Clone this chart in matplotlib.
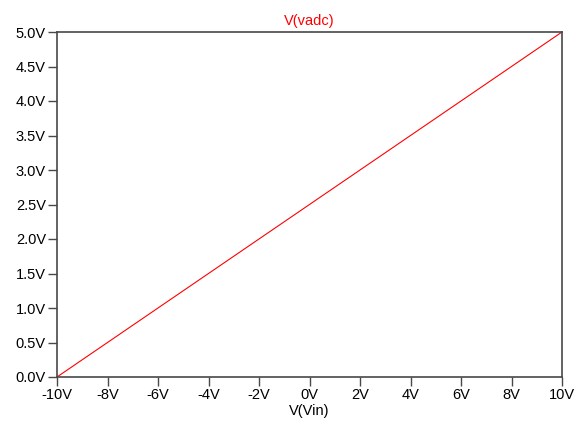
import matplotlib
matplotlib.use("Agg")
import matplotlib.pyplot as plt
import numpy as np

vin = [-10, 10]
vadc = [0.0, 5.0]
xticks = [-10, -8, -6, -4, -2, 0, 2, 4, 6, 8, 10]
yticks = [0.0, 0.5, 1.0, 1.5, 2.0, 2.5, 3.0, 3.5, 4.0, 4.5, 5.0]

plt.rcParams['font.family'] = ['Liberation Sans', 'DejaVu Sans']
fig = plt.figure(figsize=(5.84, 4.25), dpi=100)
ax = fig.add_axes([57/584, 1-377/425, (562-57)/584, (377-32)/425])
ax.plot(vin, vadc, color='red', lw=0.8)
ax.set_xlim(-10, 10)
ax.set_ylim(0, 5)
ax.set_xticks(xticks)
ax.set_xticklabels([f"{v}V" for v in xticks])
ax.set_yticks(yticks)
ax.set_yticklabels([f"{v:.1f}V" for v in yticks])
for s in ax.spines.values():
    s.set_color('#484848')
    s.set_linewidth(1.2)
ax.tick_params(direction='out', length=6.5, width=1, color='#484848', labelsize=10.5, pad=1.5)
ax.set_xlabel("V(Vin)", fontsize=10.5, labelpad=1)
ax.set_title("V(vadc)", color='red', fontsize=10.5, pad=5)
fig.savefig("out.png", dpi=100)
